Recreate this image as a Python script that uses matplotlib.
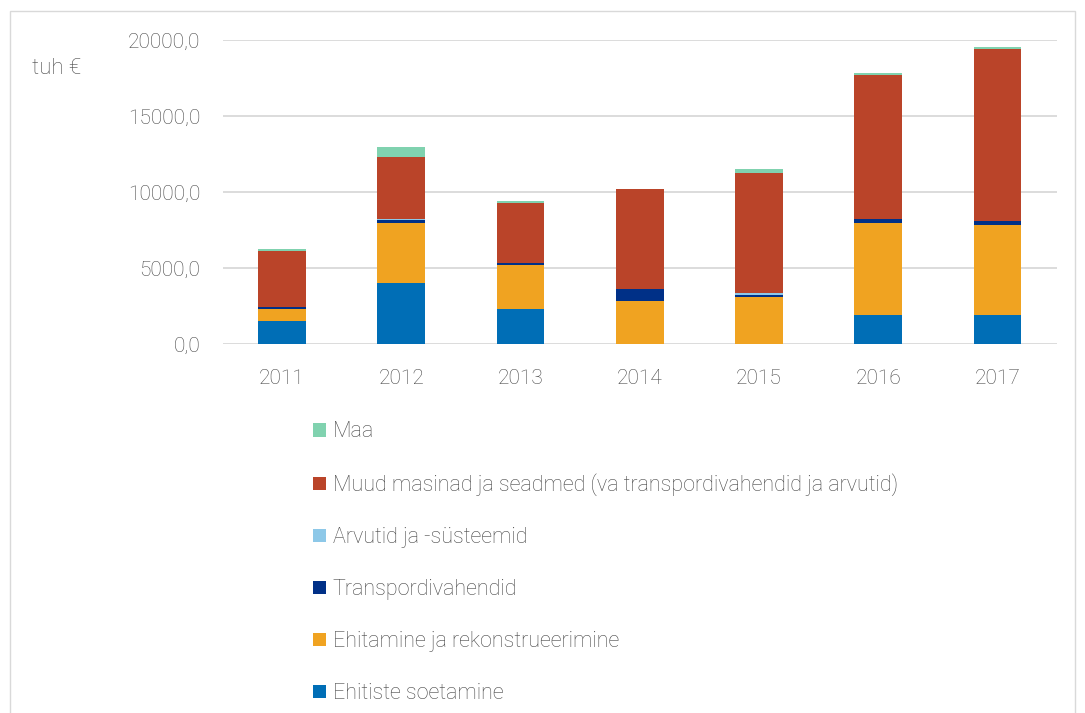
import numpy as np
import matplotlib.pyplot as plt
from matplotlib.patches import Rectangle, Patch
from matplotlib.ticker import FuncFormatter

plt.rcParams['font.family'] = ['Roboto', 'DejaVu Sans']
plt.rcParams['font.weight'] = 'light'

years = ['2011', '2012', '2013', '2014', '2015', '2016', '2017']

# tuh € per category, bottom to top
ehitiste_soetamine = [1535, 4036, 2315, 0, 0, 1930, 1930]
ehitamine = [790, 3946, 2885, 2840, 3112, 6052, 5921]
transport = [132, 178, 130, 786, 133, 263, 263]
arvutid = [0, 85, 0, 0, 132, 0, 0]
muud_masinad = [3683, 4080, 3935, 6559, 7895, 9474, 11316]
maa = [132, 658, 132, 0, 263, 132, 132]

series = [ehitiste_soetamine, ehitamine, transport, arvutid, muud_masinad, maa]
labels = ['Ehitiste soetamine', 'Ehitamine ja rekonstrueerimine', 'Transpordivahendid',
          'Arvutid ja -süsteemid',
          'Muud masinad ja seadmed (va transpordivahendid ja arvutid)', 'Maa']
colors = ['#006EB6', '#F0A321', '#003087', '#8DC8E8', '#BA4429', '#80D2AF']
text_col = '#474747'

fig = plt.figure(figsize=(10.85, 7.13), dpi=100)
ax = fig.add_axes([222.5 / 1085, 1 - 344.3 / 713, (1057 - 222.5) / 1085, (344.3 - 40) / 713])

x = np.arange(len(years))
bottom = np.zeros(len(years))
for vals, lab, col in zip(series, labels, colors):
    ax.bar(x, vals, width=0.4, bottom=bottom, color=col, label=lab, zorder=3)
    bottom += np.array(vals)

ax.set_xlim(-0.5, len(years) - 0.5)
ax.set_ylim(0, 20000)
ax.set_yticks([0, 5000, 10000, 15000, 20000])
ax.yaxis.set_major_formatter(FuncFormatter(lambda v, p: f'{v:.1f}'.replace('.', ',')))
ax.set_xticks(x)
ax.set_xticklabels(years)
ax.grid(axis='y', color='#d9d9d9', linewidth=1.3, zorder=0)
for s in ax.spines.values():
    s.set_visible(False)
ax.tick_params(length=0, colors=text_col, labelsize=15)
ax.tick_params(axis='y', pad=16)
ax.tick_params(axis='x', pad=18)

fig.text(32 / 1085, 1 - 68 / 713, 'tuh €', fontsize=16, color=text_col, va='center')

handles = [Patch(facecolor=c, edgecolor='none') for c in colors][::-1]
fig.legend(handles, labels[::-1], loc='upper left', bbox_to_anchor=(294 / 1085, 1 - 402 / 713),
           frameon=False, fontsize=15.5, labelcolor=text_col, handlelength=0.6,
           handleheight=0.6, handletextpad=0.3, labelspacing=1.44)

fig.patches.append(Rectangle((10 / 1085, -0.01), 1065 / 1085, 1 - 11 / 713 + 0.01,
                             transform=fig.transFigure, fill=False, edgecolor='#d9d9d9',
                             linewidth=1))

fig.savefig('out.png', dpi=100)
